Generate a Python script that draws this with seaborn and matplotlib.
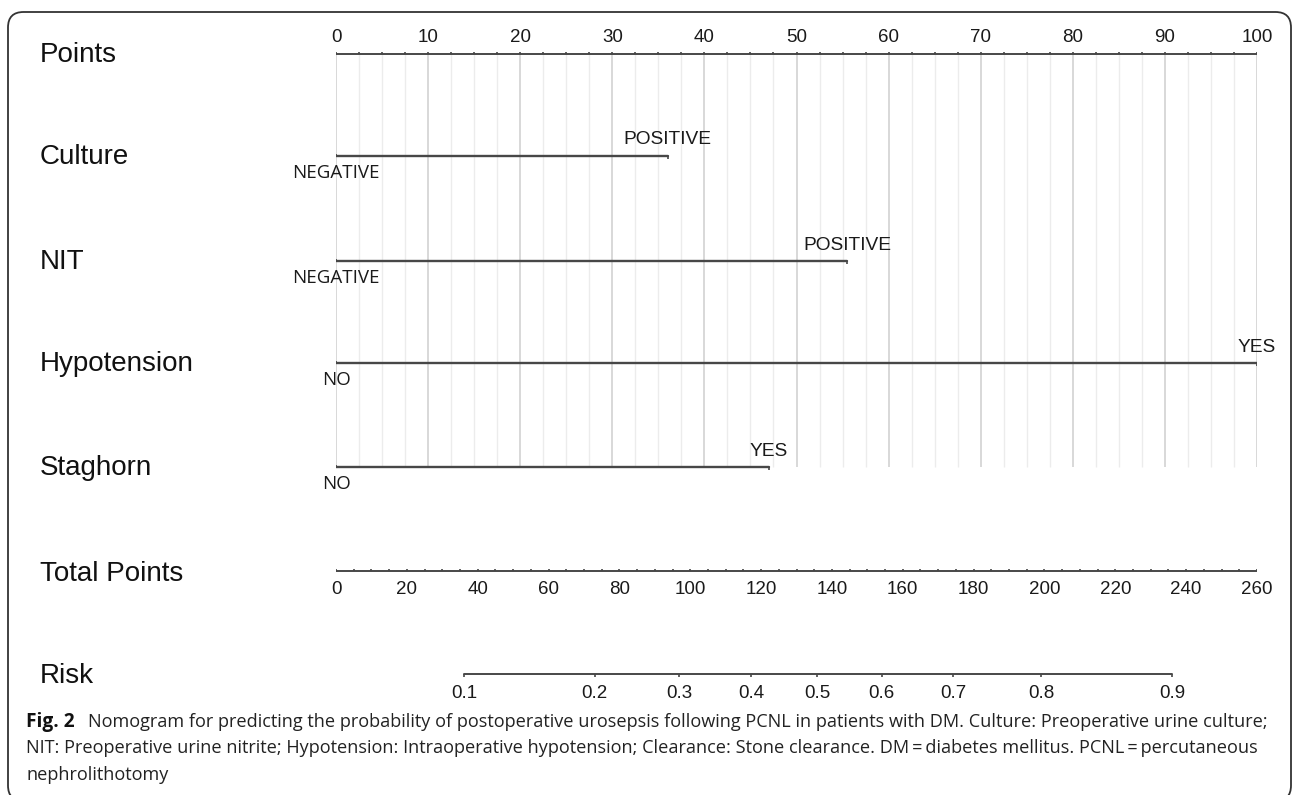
import numpy as np
import pandas as pd
import matplotlib
matplotlib.use("Agg")
import matplotlib.pyplot as plt
import matplotlib.transforms as mtransforms
from matplotlib.patches import FancyBboxPatch
import seaborn as sns

# Nomogram values
variables = ["Culture", "NIT", "Hypotension", "Staghorn"]
low_levels = ["NEGATIVE", "NEGATIVE", "NO", "NO"]
high_levels = ["POSITIVE", "POSITIVE", "YES", "YES"]
high_points = [36.0, 55.5, 100.0, 47.0]

points_ticks = [0, 10, 20, 30, 40, 50, 60, 70, 80, 90, 100]
total_ticks = [0, 20, 40, 60, 80, 100, 120, 140, 160, 180, 200, 220, 240, 260]
risk_labels = ["0.1", "0.2", "0.3", "0.4", "0.5", "0.6", "0.7", "0.8", "0.9"]
risk_at_total = [36.1, 73.0, 96.8, 117.2, 135.8, 154.1, 174.2, 199.0, 236.0]

caption_lines = [
    "Nomogram for predicting the probability of postoperative urosepsis following PCNL in patients with DM. Culture: Preoperative urine culture;",
    "NIT: Preoperative urine nitrite; Hypotension: Intraoperative hypotension; Clearance: Stone clearance. DM\u2009=\u2009diabetes mellitus. PCNL\u2009=\u2009percutaneous",
    "nephrolithotomy",
]

sns.set_theme(style="white")
plt.rcParams["font.family"] = ["Liberation Sans", "DejaVu Sans"]

W, H = 1292, 795
fig = plt.figure(figsize=(W / 100, H / 100), dpi=100)
fig.patch.set_facecolor("white")

# row positions (pixels from top) of each scale
row_points = 54
rows_var = [156, 261, 363, 467]
row_total = 571
row_risk = 674

pos = [336 / W, 0, 921 / W, 1]
ax = fig.add_axes(pos)
ax.set_xlim(0, points_ticks[-1])
ax.set_ylim(H, 0)
ax.axis("off")

ax_tot = fig.add_axes(pos, facecolor="none")
ax_tot.set_xlim(0, total_ticks[-1])
ax_tot.set_ylim(H, 0)
ax_tot.axis("off")

line_col = "#474747"
txt_col = "#1a1a1a"

# vertical grid
minor = np.arange(0, points_ticks[-1] + 0.1, 2.5)
major_mask = np.isclose(minor % 10, 0)
ax.vlines(minor[~major_mask], row_points, rows_var[-1], color="#ececec", lw=1.0, zorder=0)
ax.vlines(minor[major_mask], row_points, rows_var[-1], color="#d2d2d2", lw=1.2, zorder=0)

# Points axis
ax.plot([points_ticks[0], points_ticks[-1]], [row_points, row_points], color=line_col, lw=1.4)
ax.vlines(minor, row_points - 2.5, row_points, color=line_col, lw=1.2)
for t in points_ticks:
    ax.text(t, row_points - 16, str(t), ha="center", va="center", fontsize=13.5, color=txt_col)

# predictor lines via seaborn
df = pd.DataFrame({
    "variable": np.repeat(variables, 2),
    "points": np.ravel([[0, hp] for hp in high_points]),
    "row": np.repeat(rows_var, 2),
})
sns.lineplot(data=df, x="points", y="row", units="variable", estimator=None,
             sort=False, color=line_col, lw=1.7, ax=ax, legend=False)
ax.axis("off")
ax.set_xlim(0, points_ticks[-1])
ax.set_ylim(H, 0)
for hp, r, lo, hi in zip(high_points, rows_var, low_levels, high_levels):
    ax.vlines([0], r, r - 2.5, color=line_col, lw=1.2)
    ax.vlines([hp], r, r + 2.5, color=line_col, lw=1.2)
    ax.text(hp, r - 16, hi, ha="center", va="center", fontsize=13.8, color=txt_col)
    ax.text(0, r + 17, lo, ha="center", va="center", fontsize=13.5, color=txt_col,
            family=["Open Sans", "DejaVu Sans"])

# Total Points axis
tot_minor = np.arange(0, total_ticks[-1] + 0.1, 5)
ax_tot.plot([total_ticks[0], total_ticks[-1]], [row_total, row_total], color=line_col, lw=1.4)
ax_tot.vlines(tot_minor, row_total - 2.5, row_total, color=line_col, lw=1.2)
for t in total_ticks:
    ax_tot.text(t, row_total + 19, str(t), ha="center", va="center", fontsize=13.5, color=txt_col)

# Risk axis
ax_tot.plot([risk_at_total[0], risk_at_total[-1]], [row_risk, row_risk], color=line_col, lw=1.4)
ax_tot.vlines(risk_at_total, row_risk, row_risk + 3, color=line_col, lw=1.2)
for p, lab in zip(risk_at_total, risk_labels):
    ax_tot.text(p, row_risk + 19, lab, ha="center", va="center", fontsize=13.5, color=txt_col)

# left-hand labels
lab_tr = mtransforms.blended_transform_factory(fig.transFigure, ax.transData)
left_names = ["Points"] + variables + ["Total Points", "Risk"]
left_rows = [row_points + 1] + [r + 1 for r in rows_var] + [row_total + 3, row_risk + 2]
for name, r in zip(left_names, left_rows):
    ax.text(40 / W, r, name, transform=lab_tr, ha="left", va="center", fontsize=20, color="#111111")

# caption
cap_font = ["Open Sans", "DejaVu Sans"]
cap_size = 13.1
y0 = 1 - 722 / H
fig.text(26 / W, y0, "Fig. 2", fontsize=13.8, fontweight="bold", family=cap_font,
         va="center", ha="left", color="#111111")
fig.text(88 / W, y0, caption_lines[0], fontsize=cap_size, family=cap_font, va="center", ha="left", color="#222222")
fig.text(26 / W, 1 - 748 / H, caption_lines[1], fontsize=cap_size, family=cap_font, va="center", ha="left", color="#222222")
fig.text(26 / W, 1 - 775 / H, caption_lines[2], fontsize=cap_size, family=cap_font, va="center", ha="left", color="#222222")

# rounded frame
frame = FancyBboxPatch((8 / W, -6 / H), (1291 - 8) / W, (H - 12 + 6) / H,
                       boxstyle="round,pad=0,rounding_size=0.012",
                       transform=fig.transFigure, fill=False, edgecolor="#333333",
                       lw=1.3, clip_on=False, mutation_aspect=W / H)
fig.patches.append(frame)

fig.savefig("out.png", dpi=100, facecolor="white")
